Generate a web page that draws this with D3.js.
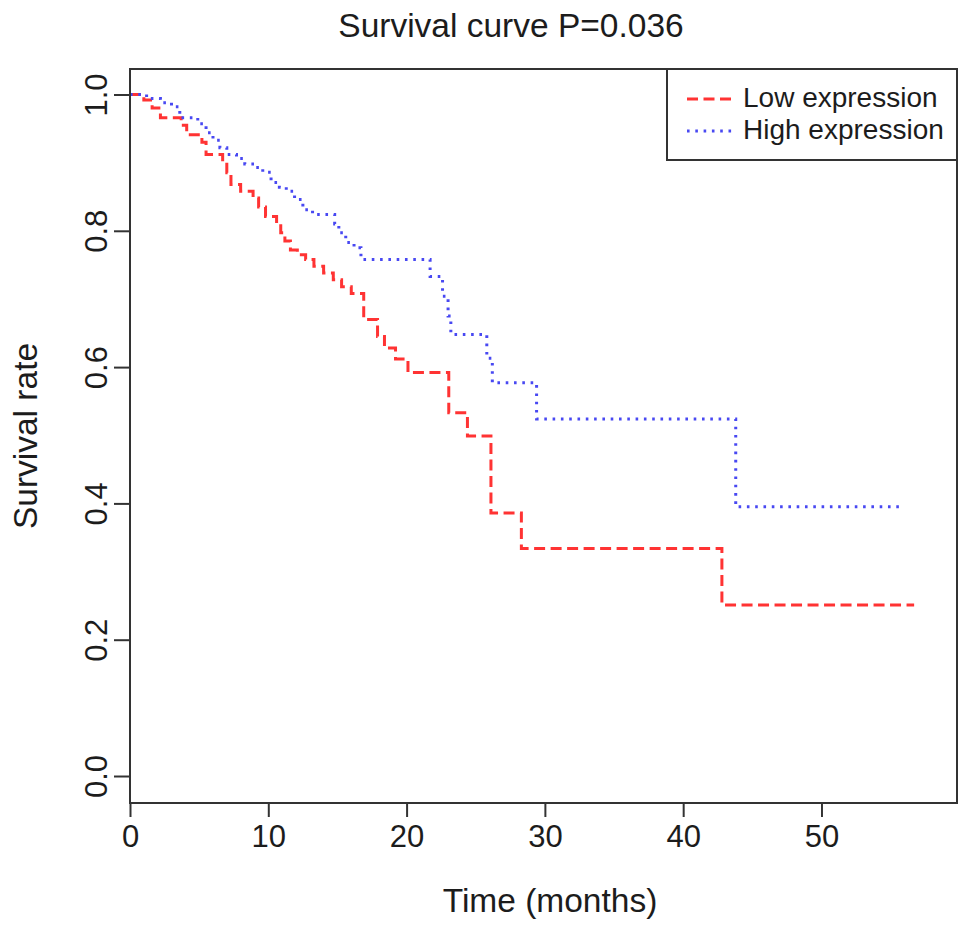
<!DOCTYPE html>
<html>
<head>
<meta charset="utf-8">
<script src="https://d3js.org/d3.v7.min.js"></script>
<style>
  body { margin: 0; background: #fff; }
  svg { display: block; }
  text { font-family: "Liberation Sans", Arial, Helvetica, sans-serif; fill: #1c1c1c; }
</style>
</head>
<body>
<div class="chart_container"></div>
<script>
// Kaplan-Meier steps (time in months, survival after the drop)
var lowTime  = [0, 1.0, 1.6, 2.2, 3.7, 4.1, 5.2, 5.5, 6.7, 7.0, 7.3, 8.0, 8.9, 9.3, 9.8, 10.6, 10.9, 11.2, 11.6, 12.1, 12.7, 13.3, 14.0, 14.7, 15.3, 16.0, 16.9, 17.9, 18.4, 19.2, 20.1, 23.05, 24.4, 26.1, 28.3, 42.8, 56.7];
var lowSurv  = [1.0, 0.992, 0.98, 0.966, 0.955, 0.941, 0.93, 0.912, 0.9, 0.885, 0.868, 0.858, 0.848, 0.835, 0.821, 0.81, 0.797, 0.785, 0.772, 0.765, 0.758, 0.748, 0.738, 0.728, 0.718, 0.708, 0.67, 0.645, 0.628, 0.612, 0.592, 0.533, 0.499, 0.386, 0.334, 0.251, 0.251];
var highTime = [0, 1.2, 2.2, 3.0, 3.6, 4.9, 5.5, 6.0, 6.5, 7.0, 7.7, 8.3, 9.0, 9.6, 10.2, 10.8, 11.3, 11.9, 12.5, 13.2, 14.8, 15.1, 15.6, 16.2, 16.7, 21.7, 22.6, 23.0, 23.2, 25.8, 26.2, 29.4, 43.8, 55.9];
var highSurv = [1.0, 0.994, 0.988, 0.982, 0.966, 0.957, 0.944, 0.933, 0.922, 0.912, 0.906, 0.898, 0.893, 0.886, 0.871, 0.864, 0.858, 0.846, 0.831, 0.824, 0.81, 0.797, 0.783, 0.775, 0.758, 0.733, 0.704, 0.675, 0.648, 0.613, 0.577, 0.524, 0.395, 0.395];
var groupNames = ["Low expression", "High expression"];
var xTicks = [0, 10, 20, 30, 40, 50];
var yTicks = [0, 0.2, 0.4, 0.6, 0.8, 1.0];
var titleText = "Survival curve P=0.036";

var W = 969, H = 933;
var box = {left: 130, right: 957, top: 69, bottom: 803};

var svg = d3.select(".chart_container").append("svg")
    .attr("width", W)
    .attr("height", H);

var x = d3.scaleLinear().domain([0, 59.8]).range([box.left, box.right]);
var y = d3.scaleLinear().domain([-0.0396, 1.0374]).range([box.bottom, box.top]);

var series = [
    {name: groupNames[0], pts: d3.zip(lowTime, lowSurv), color: "#ff3333", dash: "11,5.5"},
    {name: groupNames[1], pts: d3.zip(highTime, highSurv), color: "#4848f2", dash: "2.6,5.7"}
];

var line = d3.line()
    .x(function(d){ return x(d[0]); })
    .y(function(d){ return y(d[1]); })
    .curve(d3.curveStepAfter);

svg.append("g").selectAll("path")
    .data(series)
    .enter().append("path")
    .attr("d", function(d){ return line(d.pts); })
    .attr("fill", "none")
    .attr("stroke", function(d){ return d.color; })
    .attr("stroke-width", 3)
    .attr("stroke-dasharray", function(d){ return d.dash; });

// axes, R style: ticks outside, no domain line (the box covers it)
var gx = svg.append("g")
    .attr("transform", "translate(0," + box.bottom + ")")
    .call(d3.axisBottom(x).tickValues(xTicks).tickSize(14).tickFormat(d3.format("d")));
gx.select(".domain").remove();
gx.selectAll("line").attr("stroke", "#333").attr("stroke-width", 2);
gx.selectAll("text")
    .attr("y", 44).attr("dy", 0)
    .attr("font-size", 31)
    .attr("fill", "#1c1c1c");

var gy = svg.append("g")
    .attr("transform", "translate(" + box.left + ",0)")
    .call(d3.axisLeft(y).tickValues(yTicks).tickSize(16).tickFormat(d3.format(".1f")));
gy.select(".domain").remove();
gy.selectAll("line").attr("stroke", "#333").attr("stroke-width", 2);
gy.selectAll("text")
    .attr("transform", "rotate(-90)")
    .attr("x", 0).attr("y", -23).attr("dy", 0)
    .attr("text-anchor", "middle")
    .attr("font-size", 31)
    .attr("fill", "#1c1c1c");

// plot frame
svg.append("rect")
    .attr("x", box.left).attr("y", box.top)
    .attr("width", box.right - box.left).attr("height", box.bottom - box.top)
    .attr("fill", "none").attr("stroke", "#333").attr("stroke-width", 2);

// titles
svg.append("text")
    .attr("x", 511).attr("y", 37)
    .attr("text-anchor", "middle")
    .attr("font-size", 33.5)
    .text(titleText);

svg.append("text")
    .attr("x", 550).attr("y", 912)
    .attr("text-anchor", "middle")
    .attr("font-size", 33.5)
    .text("Time (months)");

svg.append("text")
    .attr("transform", "translate(37," + (box.top + box.bottom) / 2 + ") rotate(-90)")
    .attr("text-anchor", "middle")
    .attr("font-size", 33.5)
    .text("Survival rate");

// legend, top right corner of the plot
var legend = svg.append("g");
legend.append("rect")
    .attr("x", 667).attr("y", box.top)
    .attr("width", box.right - 667).attr("height", 91)
    .attr("fill", "#fff").attr("stroke", "#333").attr("stroke-width", 2);

var item = legend.selectAll(".item")
    .data(series)
    .enter().append("g")
    .attr("class", "item")
    .attr("transform", function(d, i){ return "translate(0," + (99 + i * 32) + ")"; });
item.append("line")
    .attr("x1", 687).attr("x2", 732)
    .attr("stroke", function(d){ return d.color; })
    .attr("stroke-width", 3)
    .attr("stroke-dasharray", function(d){ return d.dash; });
item.append("text")
    .attr("x", 743).attr("y", 8)
    .attr("font-size", 28)
    .text(function(d){ return d.name; });
</script>
</body>
</html>
